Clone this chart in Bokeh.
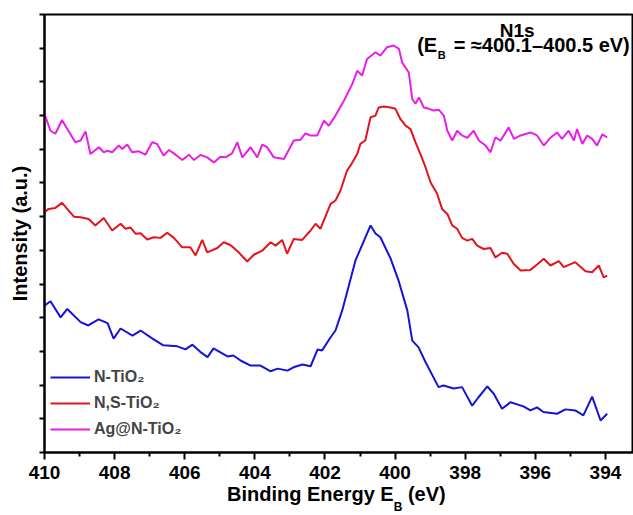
from bokeh.plotting import figure
from bokeh.models import (Range1d, FixedTicker, Label, Legend, LegendItem, Div)
from bokeh.layouts import column
from bokeh.embed import file_html
from bokeh.resources import INLINE

# ---- data (binding energy in eV, intensity in arbitrary units, stacked) ----
be_n = [410.00, 409.83, 409.54, 409.35, 408.97, 408.75, 408.46, 408.20, 408.03, 407.83,
        407.49, 407.26, 406.92, 406.61, 406.21, 405.98, 405.78, 405.55, 405.35, 405.18,
        404.78, 404.61, 404.41, 404.12, 403.84, 403.55, 403.35, 403.07, 402.90, 402.64,
        402.41, 402.21, 402.08, 401.84, 401.70, 401.51, 401.33, 401.13, 400.70, 400.56,
        400.42, 400.13, 399.90, 399.65, 399.51, 399.33, 399.13, 398.76, 398.62, 398.33,
        398.09, 397.80, 397.62, 397.37, 397.19, 396.95, 396.71, 396.34, 396.14, 395.95,
        395.77, 395.38, 395.14, 394.86, 394.63, 394.38, 394.14, 393.95]
int_n = [4.36, 4.49, 4.01, 4.26, 3.87, 3.77, 3.95, 3.84, 3.38, 3.68,
         3.47, 3.62, 3.38, 3.18, 3.15, 3.06, 3.20, 2.98, 2.83, 3.09,
         2.85, 2.88, 2.73, 2.58, 2.58, 2.41, 2.49, 2.43, 2.53, 2.61,
         2.56, 3.06, 3.03, 3.42, 3.62, 4.21, 4.91, 5.70, 6.74, 6.50,
         6.39, 5.76, 5.10, 4.21, 3.32, 3.12, 2.68, 1.94, 1.99, 1.90,
         1.94, 1.39, 1.64, 1.96, 1.75, 1.30, 1.49, 1.37, 1.25, 1.34,
         1.20, 1.15, 1.28, 1.25, 1.10, 1.66, 0.95, 1.15]

be_ns = [410.00, 409.88, 409.69, 409.50, 409.31, 409.16, 408.97, 408.74, 408.55, 408.31,
         408.07, 407.83, 407.69, 407.55, 407.40, 407.26, 407.07, 406.88, 406.69, 406.50,
         406.31, 406.07, 405.84, 405.69, 405.50, 405.36, 405.07, 404.89, 404.70, 404.46,
         404.22, 404.03, 403.79, 403.55, 403.41, 403.22, 403.08, 402.89, 402.65, 402.41,
         402.27, 402.13, 401.84, 401.70, 401.56, 401.37, 401.27, 401.08, 400.99, 400.85,
         400.70, 400.56, 400.47, 400.32, 400.13, 399.99, 399.85, 399.70, 399.56, 399.42,
         399.28, 399.13, 398.99, 398.80, 398.66, 398.51, 398.37, 398.23, 398.09, 397.94,
         397.80, 397.66, 397.47, 397.28, 397.14, 396.95, 396.80, 396.62, 396.42, 396.14,
         395.95, 395.76, 395.57, 395.33, 395.19, 394.86, 394.57, 394.38, 394.19, 394.05,
         393.95]
int_ns = [7.13, 7.23, 7.26, 7.41, 7.18, 7.00, 6.98, 6.93, 6.74, 6.96,
          6.59, 6.79, 6.64, 6.68, 6.49, 6.51, 6.32, 6.39, 6.37, 6.52,
          6.37, 6.09, 6.09, 5.85, 6.31, 5.94, 6.07, 6.24, 6.16, 5.94,
          5.67, 5.87, 5.99, 6.24, 6.14, 6.31, 5.90, 6.34, 6.31, 6.59,
          6.79, 6.64, 7.38, 7.48, 7.77, 8.37, 8.52, 8.86, 9.16, 9.26,
          9.95, 10.00, 10.24, 10.27, 10.24, 10.20, 9.90, 9.70, 9.60, 9.21,
          8.86, 8.46, 8.02, 7.68, 7.23, 7.08, 6.74, 6.64, 6.37, 6.29,
          6.34, 6.14, 6.04, 6.07, 5.79, 5.93, 5.90, 5.60, 5.40, 5.42,
          5.58, 5.75, 5.55, 5.68, 5.50, 5.65, 5.38, 5.35, 5.55, 5.20,
          5.25]

be_ag = [410.00, 409.83, 409.69, 409.50, 409.35, 409.12, 408.97, 408.83, 408.69, 408.45,
         408.31, 408.21, 408.07, 407.88, 407.78, 407.64, 407.50, 407.31, 407.12, 406.93,
         406.79, 406.60, 406.45, 406.26, 406.07, 405.88, 405.74, 405.55, 405.36, 405.17,
         404.98, 404.84, 404.65, 404.50, 404.36, 404.12, 403.93, 403.79, 403.65, 403.46,
         403.17, 402.89, 402.70, 402.56, 402.41, 402.22, 402.03, 401.89, 401.70, 401.46,
         401.22, 401.08, 400.94, 400.80, 400.56, 400.42, 400.23, 400.04, 399.89, 399.80,
         399.61, 399.51, 399.42, 399.32, 399.18, 399.04, 398.90, 398.75, 398.61, 398.51,
         398.37, 398.23, 398.09, 397.94, 397.76, 397.61, 397.42, 397.28, 397.14, 396.99,
         396.76, 396.61, 396.42, 396.14, 395.95, 395.76, 395.57, 395.38, 395.24, 395.05,
         394.90, 394.81, 394.66, 394.52, 394.38, 394.24, 394.09, 393.95]
int_ag = [10.05, 9.55, 9.46, 9.87, 9.60, 9.21, 9.26, 9.53, 8.86, 9.06,
          8.91, 8.96, 8.91, 9.11, 9.01, 9.14, 8.91, 8.94, 8.84, 9.21,
          9.16, 8.81, 8.98, 8.84, 8.68, 8.84, 8.68, 8.83, 8.76, 8.61,
          8.78, 8.76, 8.88, 9.21, 8.76, 9.06, 8.76, 9.14, 9.06, 8.76,
          8.71, 9.26, 9.28, 9.47, 9.41, 9.41, 9.85, 9.70, 10.00, 10.44,
          10.94, 11.33, 11.19, 11.68, 11.88, 11.78, 12.03, 12.08, 11.98, 11.58,
          11.28, 10.49, 10.35, 10.54, 10.24, 10.20, 10.15, 10.17, 10.00, 9.55,
          9.26, 9.55, 9.41, 9.34, 9.55, 9.26, 9.11, 8.91, 9.35, 9.26,
          9.65, 9.31, 9.41, 9.50, 9.41, 9.11, 9.34, 9.50, 9.31, 9.55,
          9.26, 9.60, 9.16, 9.41, 9.31, 9.11, 9.44, 9.35]

series_names = ["N-TiO\u2082", "N,S-TiO\u2082", "Ag@N-TiO\u2082"]
series_colors = ["#1414d6", "#e4141c", "#e81ee8"]
x_ticks = [394, 396, 398, 400, 402, 404, 406, 408, 410]
x_minor = [395, 397, 399, 401, 403, 405, 407, 409]
y_ticks = list(range(0, 14))

FONT = "Liberation Sans"

p = figure(width=633, height=490, output_backend="svg", toolbar_location=None,
           x_range=Range1d(410, 393.2), y_range=Range1d(0, 13),
           min_border_left=44, min_border_right=0, min_border_top=14,
           min_border_bottom=38)
p.grid.visible = False
# frame outline supplies the top border (its right side lies at the window edge)
p.outline_line_color = "black"
p.outline_line_width = 2
p.background_fill_color = "white"
p.border_fill_color = "white"

xs = [be_n, be_ns, be_ag]
ys = [int_n, int_ns, int_ag]
items = []
for bx, iy, name, col in zip(xs, ys, series_names, series_colors):
    r = p.line(bx, iy, line_color=col, line_width=2)
    items.append(LegendItem(label=name, renderers=[r]))

legend = Legend(items=items, location=(6, 13), padding=0, margin=0,
                border_line_color=None, background_fill_alpha=0,
                glyph_width=40, glyph_height=20, label_height=20,
                spacing=6, label_standoff=4,
                label_text_font=FONT, label_text_font_style="bold",
                label_text_font_size="16px")
p.add_layout(legend, "center")

# bottom axis
xa = p.xaxis[0]
xa.ticker = FixedTicker(ticks=x_ticks, minor_ticks=x_minor)
xa.axis_line_width = 2
xa.major_tick_line_width = 2
xa.minor_tick_line_width = 2
xa.major_tick_out = 7
xa.major_tick_in = 0
xa.minor_tick_out = 4
xa.minor_tick_in = 0
xa.major_label_text_font = FONT
xa.major_label_text_font_style = "bold"
xa.major_label_text_font_size = "19px"
xa.major_label_text_color = "black"
xa.major_label_standoff = 6

# left axis (ticks only, no numbers)
ya = p.yaxis[0]
ya.ticker = FixedTicker(ticks=y_ticks, minor_ticks=[])
ya.axis_line_width = 2
ya.major_tick_line_width = 2
ya.major_tick_out = 5
ya.major_tick_in = 0
ya.minor_tick_line_color = None
ya.major_label_overrides = {t: "" for t in y_ticks}
ya.major_label_standoff = 0
ya.axis_label = "Intensity (a.u.)"
ya.axis_label_text_font = FONT
ya.axis_label_text_font_style = "bold"
ya.axis_label_text_font_size = "20px"
ya.axis_label_text_color = "black"
ya.axis_label_standoff = 9

def lab(x, y, text, size, align="left"):
    p.add_layout(Label(x=x, y=y, text=text, text_font=FONT, text_font_style="bold",
                       text_font_size=size, text_align=align, text_color="black"))

# annotation
lab(396.52, 12.226, "N1s", "19px", align="center")
lab(399.37, 11.78, "(E", "20px")
lab(398.78, 11.63, "B", "11px")
lab(398.33, 11.78, "= \u2248400.1\u2013400.5 eV)", "20px")

xlabel_html = (
    '<div style="position:relative; left:227px; top:-6px; white-space:nowrap; '
    "font-family:'Liberation Sans', Arial, sans-serif; font-weight:bold; "
    'font-size:20px; line-height:20px; color:black;">'
    'Binding Energy E<span style="font-size:12px; position:relative; top:10px;">B</span>'
    ' (eV)</div>'
)
xlabel = Div(text=xlabel_html, width=633, height=25, margin=0,
             styles={"overflow": "visible"})

layout = column(p, xlabel, spacing=0)
open("out.html", "w").write(file_html(layout, INLINE))
